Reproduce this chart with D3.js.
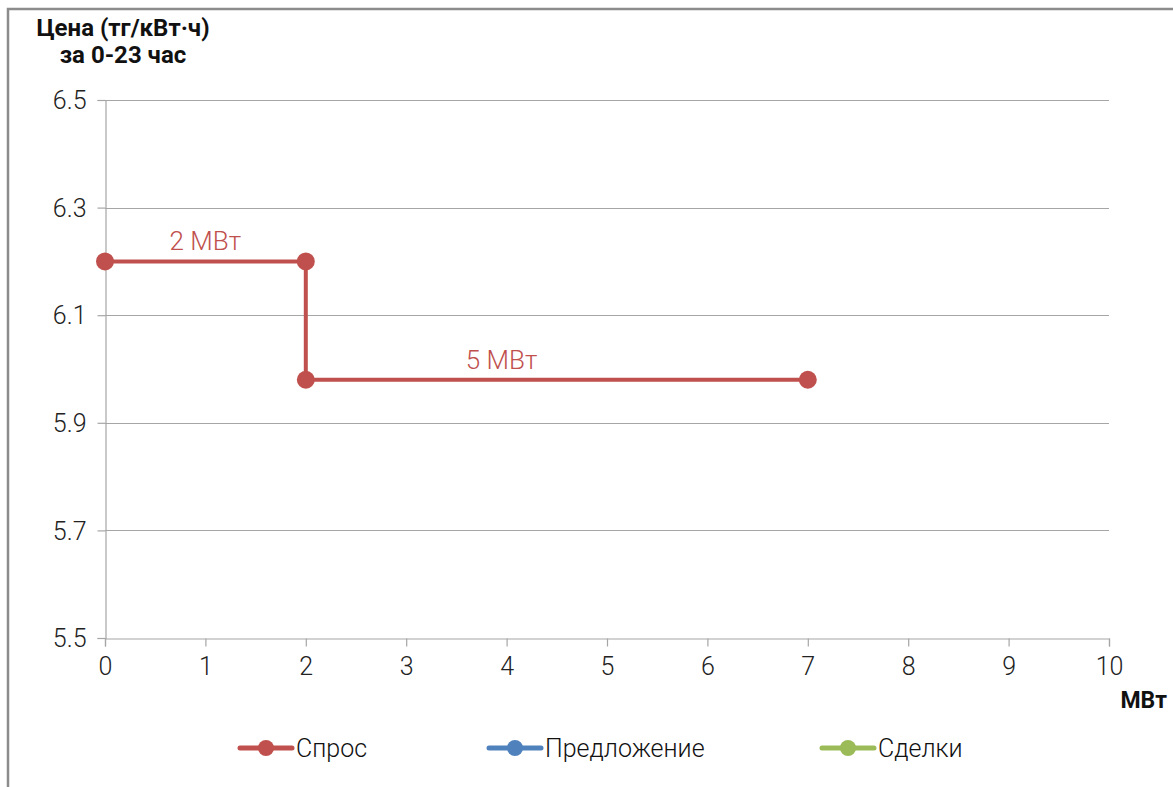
<!DOCTYPE html>
<html>
<head>
<meta charset="utf-8">
<script src="https://cdn.jsdelivr.net/npm/d3@7"></script>
<style>
    body { margin: 0; background: #fff; }
    svg { display: block; font-family: Roboto, "Noto Sans", sans-serif; }
</style>
</head>
<body>
<div id="chart"></div>
<script>
// data
var demandMw = [0, 2, 2, 7];
var demandPrice = [6.2, 6.2, 5.98, 5.98];
var supplyMw = [];
var supplyPrice = [];
var dealsMw = [];
var dealsPrice = [];
var xTicks = [0, 1, 2, 3, 4, 5, 6, 7, 8, 9, 10];
var yTicks = [5.5, 5.7, 5.9, 6.1, 6.3, 6.5];
var stepLabels = ['2 МВт', '5 МВт'];
var stepLabelMw = [1, 3.95];
var stepLabelPrice = [6.2, 5.98];
var seriesNames = ['Спрос', 'Предложение', 'Сделки'];
var seriesColors = ['#c0504d', '#4f81bd', '#9bbb59'];

var Chart = {
    width: 1173,
    height: 787,
    svg: '',
    x: '',
    y: '',
    draw: function () {
        this.defineCanvas()
            .defineScales()
            .drawFrame()
            .drawGrid()
            .drawAxes()
            .drawTitles()
            .drawSeries()
            .drawLegend();
    },
    defineCanvas: function () {
        this.svg = d3.select('#chart')
            .append('svg')
            .attr('width', this.width)
            .attr('height', this.height);
        return this;
    },
    defineScales: function () {
        this.x = d3.scaleLinear().domain([0, 10]).range([105, 1109]);
        this.y = d3.scaleLinear().domain([5.5, 6.5]).range([638, 100]);
        return this;
    },
    drawFrame: function () {
        this.svg.append('path')
            .attr('d', 'M8,' + this.height + 'V9H' + this.width)
            .attr('fill', 'none')
            .attr('stroke', '#8c8c8c')
            .attr('stroke-width', 2.5);
        return this;
    },
    drawGrid: function () {
        var x = this.x, y = this.y;
        this.svg.append('g')
            .selectAll('line')
            .data(yTicks.slice(1))
            .enter()
            .append('line')
            .attr('x1', x(0))
            .attr('x2', x(10))
            .attr('y1', function (d) { return Math.round(y(d)) + 0.5; })
            .attr('y2', function (d) { return Math.round(y(d)) + 0.5; })
            .attr('stroke', '#a6a6a6')
            .attr('stroke-width', 1.2);
        return this;
    },
    drawAxes: function () {
        var x = this.x, y = this.y;
        var yAxis = this.svg.append('g')
            .attr('transform', 'translate(' + (x(0) + 0.5) + ',0)')
            .call(d3.axisLeft(y).tickValues(yTicks).tickSize(8).tickPadding(11)
                .tickFormat(d3.format('.1f')));
        var xAxis = this.svg.append('g')
            .attr('transform', 'translate(0,' + (Math.round(y(5.5)) + 0.5) + ')')
            .call(d3.axisBottom(x).tickValues(xTicks).tickSize(8).tickPadding(10)
                .tickFormat(d3.format('d')));
        [yAxis, xAxis].forEach(function (g) {
            g.select('.domain').attr('stroke', '#a6a6a6').attr('stroke-width', 1.2);
            g.selectAll('.tick line').attr('stroke', '#a6a6a6').attr('stroke-width', 1.2);
            g.selectAll('.tick text')
                .attr('fill', '#222')
                .style('font-size', '25px')
                .style('font-weight', '300')
                .style('font-family', 'Roboto, sans-serif');
        });
        yAxis.selectAll('.tick text').attr('dy', '0.35em');
        xAxis.selectAll('.tick text').attr('dy', '0.75em');
        return this;
    },
    drawTitles: function () {
        this.svg.append('text')
            .attr('x', 123)
            .attr('y', 36)
            .attr('text-anchor', 'middle')
            .style('font-size', '24px')
            .style('font-weight', 'bold')
            .attr('fill', '#111')
            .text('Цена (тг/кВт·ч)');
        this.svg.append('text')
            .attr('x', 123)
            .attr('y', 63)
            .attr('text-anchor', 'middle')
            .style('font-size', '24px')
            .style('font-weight', 'bold')
            .attr('fill', '#111')
            .text('за 0-23 час');
        this.svg.append('text')
            .attr('x', 1167)
            .attr('y', 708)
            .attr('text-anchor', 'end')
            .style('font-size', '23px')
            .style('font-weight', 'bold')
            .attr('fill', '#111')
            .text('МВт');
        return this;
    },
    drawSeries: function () {
        var x = this.x, y = this.y;
        var series = [
            { mw: demandMw, price: demandPrice, color: seriesColors[0] },
            { mw: supplyMw, price: supplyPrice, color: seriesColors[1] },
            { mw: dealsMw, price: dealsPrice, color: seriesColors[2] }
        ];
        var line = d3.line()
            .x(function (d) { return x(d[0]); })
            .y(function (d) { return y(d[1]); });

        series.forEach(function (s) {
            var pts = d3.zip(s.mw, s.price);
            if (!pts.length) return;
            Chart.svg.append('path')
                .datum(pts)
                .attr('d', line)
                .attr('fill', 'none')
                .attr('stroke', s.color)
                .attr('stroke-width', 4);
            Chart.svg.append('g')
                .selectAll('circle')
                .data(pts)
                .enter()
                .append('circle')
                .attr('cx', function (d) { return x(d[0]); })
                .attr('cy', function (d) { return y(d[1]); })
                .attr('r', 9)
                .attr('fill', s.color);
        });

        this.svg.append('g')
            .selectAll('text')
            .data(d3.zip(stepLabels, stepLabelMw, stepLabelPrice))
            .enter()
            .append('text')
            .attr('x', function (d) { return x(d[1]); })
            .attr('y', function (d) { return y(d[2]) - 11; })
            .attr('text-anchor', 'middle')
            .attr('fill', seriesColors[0])
            .style('font-size', '26px')
            .style('font-weight', '300')
            .text(function (d) { return d[0]; });
        return this;
    },
    drawLegend: function () {
        var lineStart = [240, 489, 822];
        var g = this.svg.append('g').attr('transform', 'translate(0,748)');
        var item = g.selectAll('g')
            .data(seriesNames)
            .enter()
            .append('g')
            .attr('transform', function (d, i) { return 'translate(' + lineStart[i] + ',0)'; });
        item.append('line')
            .attr('x1', 0)
            .attr('x2', 52)
            .attr('stroke', function (d, i) { return seriesColors[i]; })
            .attr('stroke-width', 5)
            .attr('stroke-linecap', 'round');
        item.append('circle')
            .attr('cx', 26)
            .attr('r', 8)
            .attr('fill', function (d, i) { return seriesColors[i]; });
        item.append('text')
            .attr('x', 56)
            .attr('dy', '0.36em')
            .attr('fill', '#111')
            .style('font-size', '25px')
            .style('font-weight', '300')
            .text(function (d) { return d; });
        return this;
    }
};

Chart.draw();
</script>
</body>
</html>
